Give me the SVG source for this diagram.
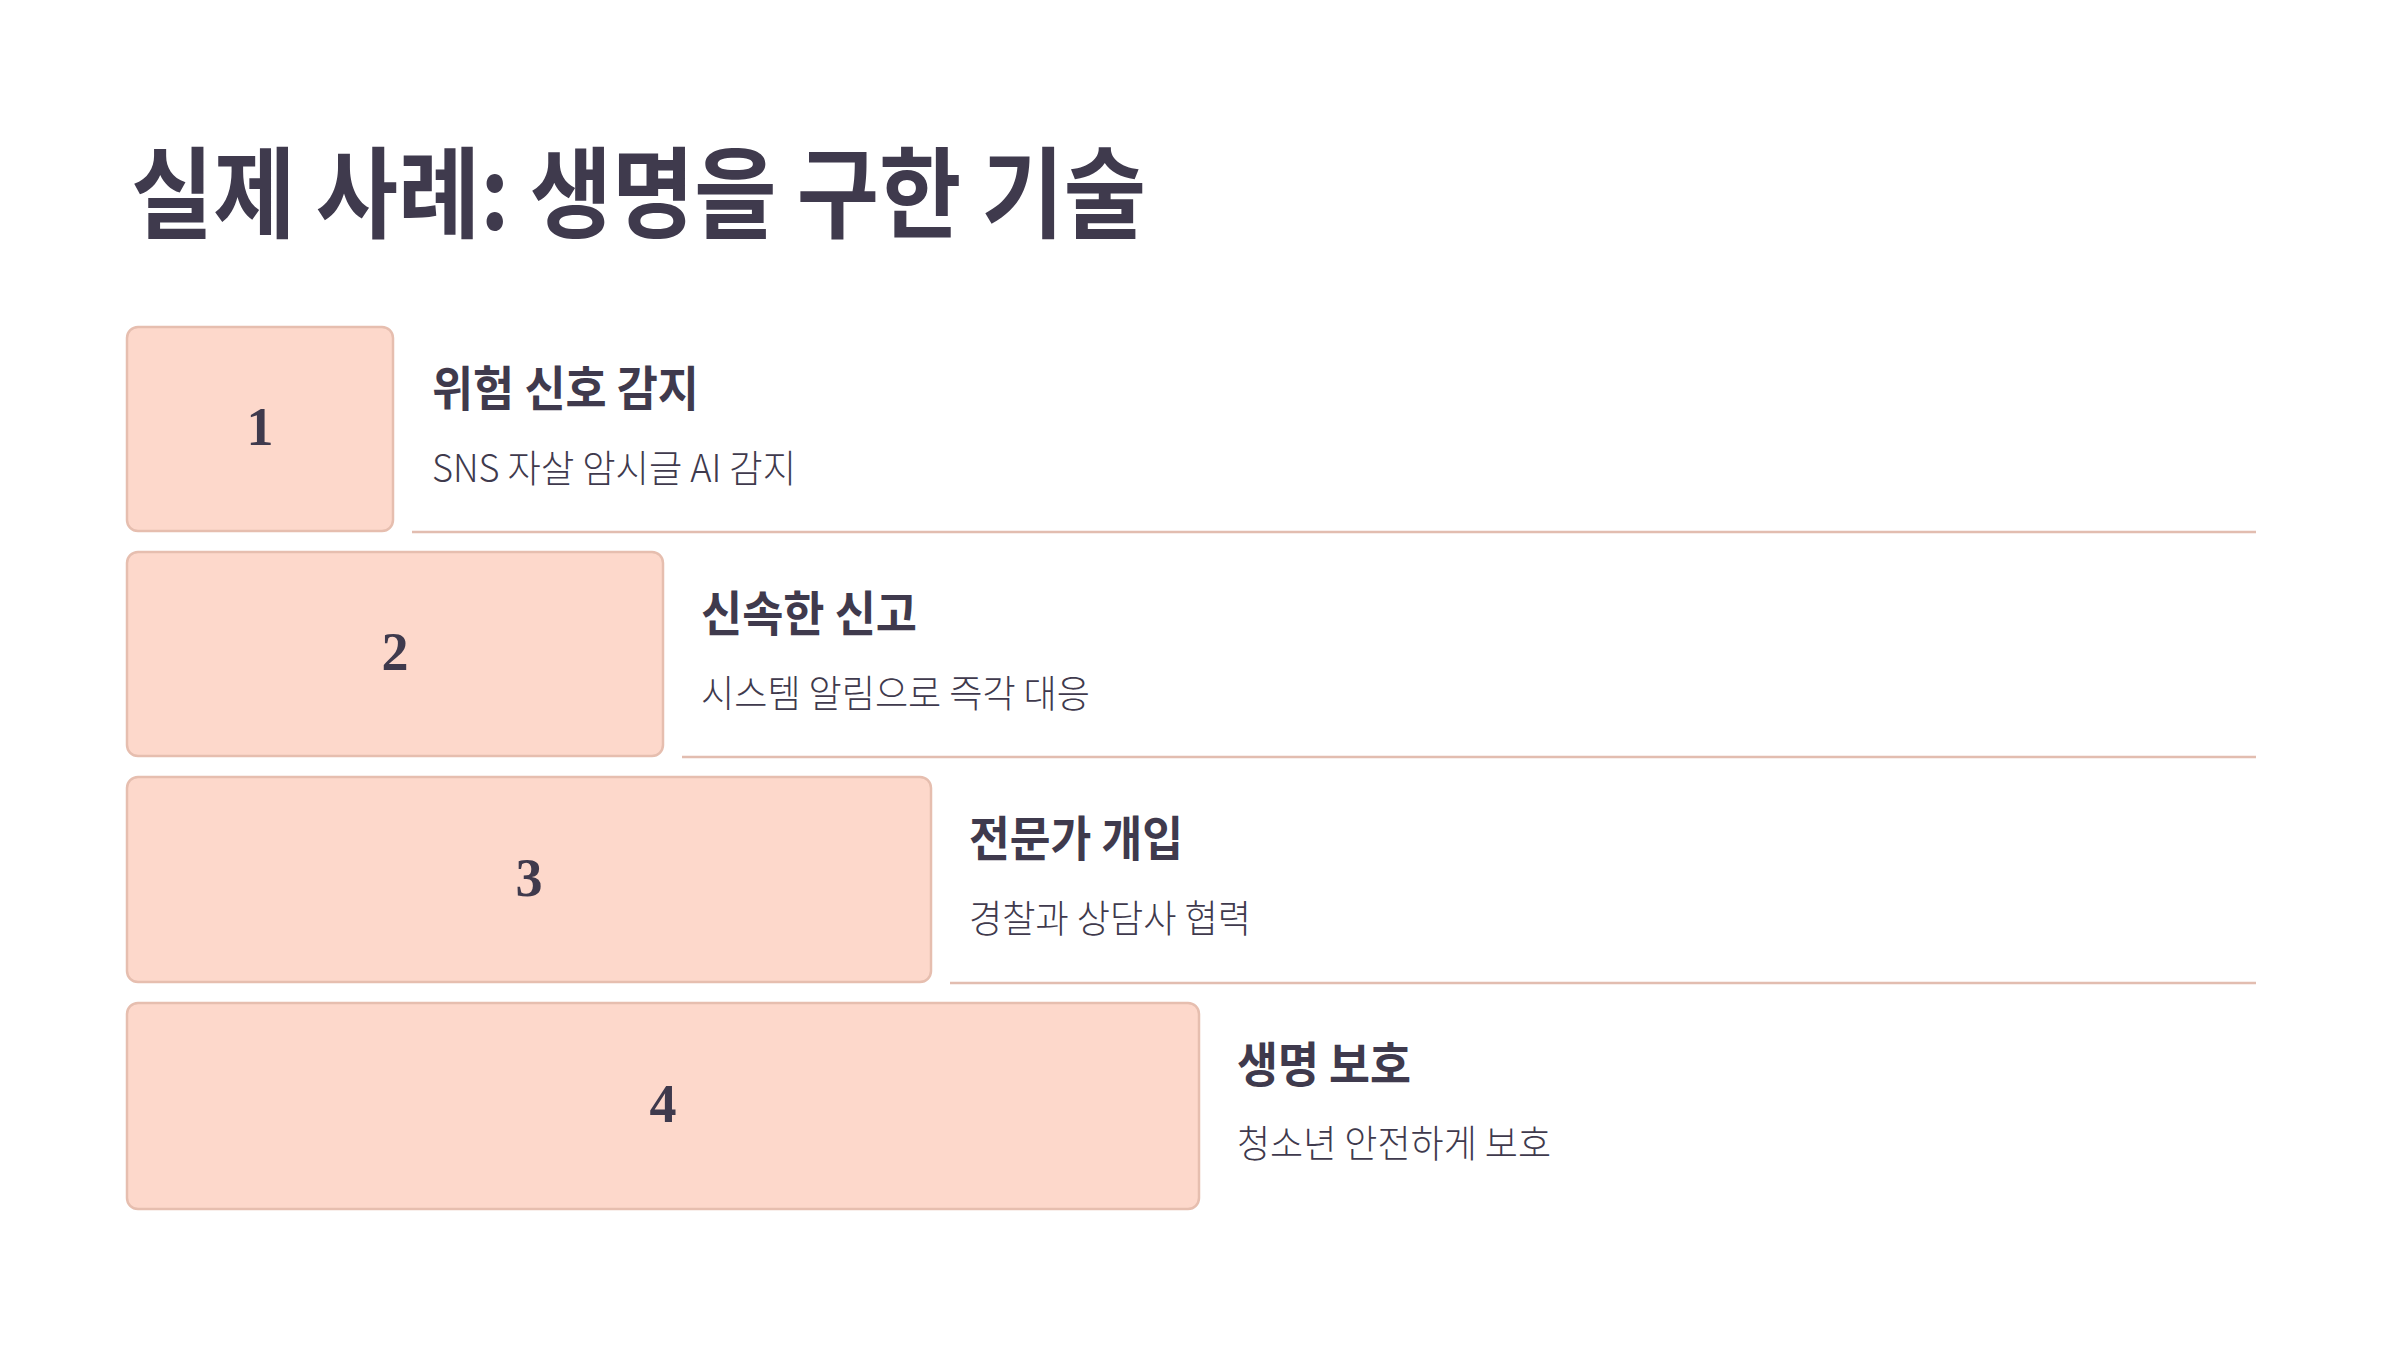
<svg xmlns="http://www.w3.org/2000/svg" width="2400" height="1350" viewBox="0 0 2400 1350">
<style>
.box{fill:#FDD8CB;stroke:#E6BEAF;stroke-width:2.5}
.num{font-family:"Liberation Serif","DejaVu Serif",serif;font-weight:bold;font-size:54px;fill:#3F3A4D;text-anchor:middle}
.title{font-family:"Noto Sans CJK KR","Noto Sans",sans-serif;font-weight:bold;font-size:99px;fill:#3F3A4D}
.head{font-family:"Noto Sans CJK KR","Noto Sans",sans-serif;font-weight:bold;font-size:48px;fill:#3F3A4D}
.sub{font-family:"Noto Sans CJK KR","Noto Sans",sans-serif;font-weight:300;font-size:38px;fill:#3F3A4D}
.sep{stroke:#E2BDB0;stroke-width:2.5}
</style>
<rect width="2400" height="1350" fill="#FFFFFF"/>
<text class="title" x="131" y="230" textLength="1015" lengthAdjust="spacingAndGlyphs">실제 사례: 생명을 구한 기술</text>
<g id="connectors">
<line class="sep" x1="412" y1="532" x2="2256" y2="532"/>
<line class="sep" x1="682" y1="757" x2="2256" y2="757"/>
<line class="sep" x1="950" y1="983" x2="2256" y2="983"/>
</g>
<g id="step1">
<rect class="box" x="127" y="327" width="266" height="204" rx="11"/>
<text class="num" x="260" y="445">1</text>
<text class="head" x="432" y="406" textLength="267" lengthAdjust="spacingAndGlyphs">위험 신호 감지</text>
<text class="sub" x="432" y="482" textLength="364" lengthAdjust="spacingAndGlyphs">SNS 자살 암시글 AI 감지</text>
</g>
<g id="step2">
<rect class="box" x="127" y="552" width="536" height="204" rx="11"/>
<text class="num" x="395" y="670">2</text>
<text class="head" x="701" y="631" textLength="216" lengthAdjust="spacingAndGlyphs">신속한 신고</text>
<text class="sub" x="701" y="707" textLength="389" lengthAdjust="spacingAndGlyphs">시스템 알림으로 즉각 대응</text>
</g>
<g id="step3">
<rect class="box" x="127" y="777" width="804" height="205" rx="11"/>
<text class="num" x="529" y="896">3</text>
<text class="head" x="969" y="856" textLength="214" lengthAdjust="spacingAndGlyphs">전문가 개입</text>
<text class="sub" x="969" y="932" textLength="282" lengthAdjust="spacingAndGlyphs">경찰과 상담사 협력</text>
</g>
<g id="step4">
<rect class="box" x="127" y="1003" width="1072" height="206" rx="11"/>
<text class="num" x="663" y="1122">4</text>
<text class="head" x="1237" y="1082" textLength="174" lengthAdjust="spacingAndGlyphs">생명 보호</text>
<text class="sub" x="1237" y="1157" textLength="314" lengthAdjust="spacingAndGlyphs">청소년 안전하게 보호</text>
</g>
</svg>
